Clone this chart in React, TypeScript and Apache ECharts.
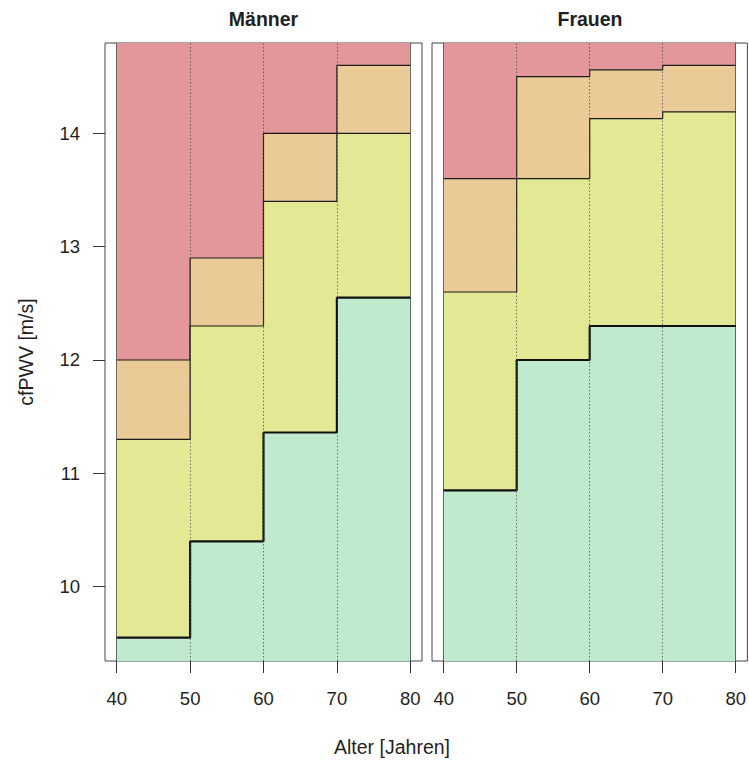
import { useEffect, useRef } from "react";
import * as echarts from "echarts";

// Age bands (x) and the band limits of cfPWV per sex
const ages = [40, 50, 60, 70, 80];
const xTicks = [40, 50, 60, 70, 80];
const yTicks = [10, 11, 12, 13, 14];
const panelTitles = ["Männer", "Frauen"];

// Upper limit of the green band (thick line), per decade 40-50 … 70-80
const menGreen = [9.55, 10.4, 11.36, 12.55];
const menYellow = [11.3, 12.3, 13.4, 14.0];
const menOrange = [12.0, 12.9, 14.0, 14.6];

const womenGreen = [10.85, 12.0, 12.3, 12.3];
const womenYellow = [12.6, 13.6, 14.13, 14.19];
const womenOrange = [13.6, 14.5, 14.56, 14.6];

const X_MIN = 38.4;
const X_MAX = 81.6;
const Y_MIN = 9.344;
const Y_MAX = 14.797;

const COL_RED = "#e4979a";
const COL_ORANGE = "#eaca96";
const COL_YELLOW = "#e2e893";
const COL_GREEN = "#c0eace";
const FONT = "'Liberation Sans', Arial, sans-serif";
const TEXT = "#1f1f1f";

// step points: value v[i] holds from ages[i] to ages[i+1]
function steps(v: number[]) {
  return ages.map((a, i) => [a, v[Math.min(i, v.length - 1)]]);
}

function panelSeries(idx: number, green: number[], yellow: number[], orange: number[]) {
  const base = {
    type: "line" as const,
    xAxisIndex: idx,
    yAxisIndex: idx,
    step: "end" as const,
    showSymbol: false,
    symbol: "none",
    silent: true,
  };
  return [
    {
      ...base,
      name: "rot",
      data: steps(orange),
      lineStyle: { width: 0 },
      areaStyle: { color: COL_RED, opacity: 1, origin: "end" as const },
      z: 2,
    },
    {
      ...base,
      name: "orange",
      data: steps(orange),
      lineStyle: { width: 1.2, color: "#1a1a1a" },
      areaStyle: { color: COL_ORANGE, opacity: 1, origin: "start" as const },
      z: 2,
    },
    {
      ...base,
      name: "gelb",
      data: steps(yellow),
      lineStyle: { width: 1.2, color: "#1a1a1a" },
      areaStyle: { color: COL_YELLOW, opacity: 1, origin: "start" as const },
      z: 3,
    },
    {
      ...base,
      name: "grün",
      data: steps(green),
      lineStyle: { width: 2.2, color: "#111" },
      areaStyle: { color: COL_GREEN, opacity: 1, origin: "start" as const },
      z: 4,
    },
    {
      ...base,
      name: "raster",
      data: [],
      markLine: {
        silent: true,
        symbol: ["none", "none"],
        label: { show: false },
        animation: false,
        data: [
          ...[50, 60, 70].map((x) => ({
            xAxis: x,
            lineStyle: { type: [1.5, 2] as any, color: "rgba(70,70,70,0.75)", width: 1 },
          })),
          ...[40, 80].map((x) => ({
            xAxis: x,
            lineStyle: { type: "solid" as const, color: "rgba(0,0,0,0.55)", width: 1 },
          })),
        ],
      },
    },
  ];
}

export default function App() {
  const ref = useRef<HTMLDivElement>(null);

  useEffect(() => {
    if (!ref.current) return;
    const chart = echarts.init(ref.current, undefined, { renderer: "svg" });

    const grids = [
      { left: 105, top: 43, width: 317, height: 618 },
      { left: 432, top: 43, width: 316, height: 618 },
    ];

    const option = {
      animation: false,
      backgroundColor: "#ffffff",
      grid: grids.map((g) => ({
        ...g,
        show: true,
        borderColor: "#444",
        borderWidth: 1,
        backgroundColor: "transparent",
      })),
      xAxis: grids.map((_, i) => ({
        type: "value",
        gridIndex: i,
        min: X_MIN,
        max: X_MAX,
        axisLine: { show: false },
        splitLine: { show: false },
        axisTick: {
          show: true,
          length: 12,
          customValues: xTicks,
          lineStyle: { color: "#333", width: 1 },
        },
        axisLabel: {
          customValues: xTicks,
          margin: 28,
          fontSize: 18.5,
          color: TEXT,
          fontFamily: FONT,
        },
      })),
      yAxis: grids.map((_, i) => ({
        type: "value",
        gridIndex: i,
        min: Y_MIN,
        max: Y_MAX,
        axisLine: { show: false },
        splitLine: { show: false },
        axisTick: {
          show: i === 0,
          length: 12,
          customValues: yTicks,
          lineStyle: { color: "#333", width: 1 },
        },
        axisLabel: {
          show: i === 0,
          customValues: yTicks,
          margin: 25,
          fontSize: 18.5,
          color: TEXT,
          fontFamily: FONT,
        },
      })),
      series: [
        ...panelSeries(0, menGreen, menYellow, menOrange),
        ...panelSeries(1, womenGreen, womenYellow, womenOrange),
      ],
      graphic: [
        ...panelTitles.map((t, i) => ({
          type: "text",
          x: grids[i].left + grids[i].width / 2,
          y: 19,
          style: {
            text: t,
            fontSize: 19.5,
            fontWeight: "bold",
            fontFamily: FONT,
            fill: TEXT,
            align: "center",
            verticalAlign: "middle",
          },
        })),
        {
          type: "text",
          x: 392,
          y: 747,
          style: {
            text: "Alter [Jahren]",
            fontSize: 19.5,
            fontFamily: FONT,
            fill: TEXT,
            align: "center",
            verticalAlign: "middle",
          },
        },
        {
          type: "text",
          x: 26,
          y: 352,
          rotation: Math.PI / 2,
          style: {
            text: "cfPWV [m/s]",
            fontSize: 19.5,
            fontFamily: FONT,
            fill: TEXT,
            align: "center",
            verticalAlign: "middle",
          },
        },
      ],
    };

    chart.setOption(option as any);
    return () => chart.dispose();
  }, []);

  return (
    <div
      ref={ref}
      style={{ position: "fixed", left: 0, top: 0, width: 749, height: 761 }}
    />
  );
}
